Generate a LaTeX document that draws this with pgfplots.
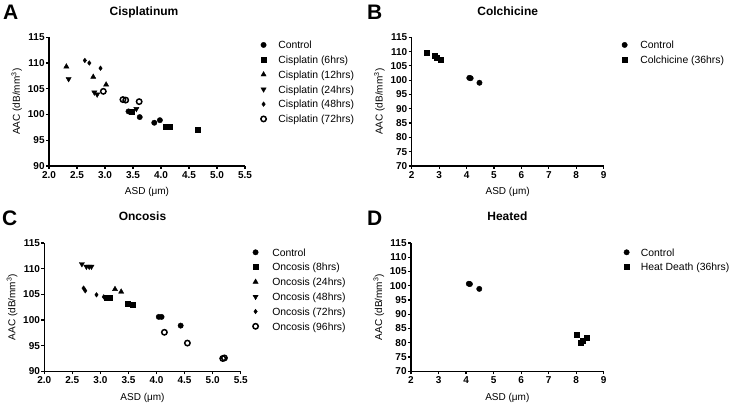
\documentclass[border=0pt]{standalone}
\usepackage{pgfplots}
\pgfplotsset{compat=1.18}
\usepackage{fontspec}
\setmainfont{Liberation Sans}

\pgfplotsset{
  gp/.style={
    scale only axis,
    axis x line*=bottom, axis y line*=left,
    axis line style={line width=1.3pt, -},
    every tick/.style={black, line width=1.2pt},
    tick align=outside,
    major tick length=3pt,
    clip=false,
    /pgf/number format/assume math mode=true,
    ticklabel style={font=\bfseries\fontsize{10}{10}\selectfont},
    yticklabel style={inner sep=1.2pt},
    xticklabel style={inner sep=2.5pt},
    label style={font=\fontsize{10.8}{12}\selectfont},
    every axis x label/.style={at={([yshift=-29pt]axis description cs:0.5,0)}, anchor=base},
    every axis y label/.style={at={([xshift=-29pt]axis description cs:0,0.5)}, anchor=base, rotate=90},
    title style={font=\bfseries\fontsize{12}{12}\selectfont, anchor=base, at={(axis description cs:0.5,1)}, yshift=16pt},
    legend cell align=left,
    legend style={draw=none, fill=none, inner sep=0pt, outer sep=0pt,
      font=\fontsize{10.4}{12}\selectfont,
      nodes={inner sep=0pt, text height=9pt, text depth=1.4pt},
      row sep=4.4pt, anchor=north west},
    legend image code/.code={\draw[mark repeat=2,mark phase=2,#1] plot coordinates {(0pt,0pt) (3pt,0pt) (6pt,0pt)};},
    ylabel={AAC (dB/mm\textsuperscript{3})},
    xlabel={ASD (μm)},
  },
  ctrl/.style={only marks, black, mark=*, mark size=2.7pt},
  sq/.style={only marks, black, mark=square*, mark size=2.5pt},
  tu/.style={only marks, black, mark=triangle*, mark size=3pt},
  td/.style={only marks, black, mark=triangle*, mark size=3pt, mark options={rotate=180}},
  dm/.style={only marks, black, mark=diamond*, mark size=2.3pt},
  oc/.style={only marks, black, mark=o, mark size=2.7pt, mark options={line width=1.5pt}},
}

\begin{document}
\begin{tikzpicture}
\useasboundingbox (0,0) rectangle (730pt,406pt);

% Panel letters
\node[anchor=base west, inner sep=0pt, font=\bfseries\fontsize{21}{21}\selectfont] at (3pt,386pt) {A};
\node[anchor=base west, inner sep=0pt, font=\bfseries\fontsize{21}{21}\selectfont] at (367pt,386pt) {B};
\node[anchor=base west, inner sep=0pt, font=\bfseries\fontsize{21}{21}\selectfont] at (2pt,180pt) {C};
\node[anchor=base west, inner sep=0pt, font=\bfseries\fontsize{21}{21}\selectfont] at (367pt,180pt) {D};

% ---------------- A ----------------
\begin{axis}[gp, at={(49pt,240pt)}, anchor=south west,
  width=196pt, height=128.7pt,
  xmin=2, xmax=5.5, ymin=90, ymax=115,
  xtick={2,2.5,...,5.5}, ytick={90,95,...,115},
  xticklabel style={/pgf/number format/.cd, fixed, fixed zerofill, precision=1},
  title={Cisplatinum}, title style={xshift=-3pt},
  legend style={at={(rel axis cs:1.081,0.981)}, /tikz/every odd column/.append style={column sep=12pt}}]
\addplot[ctrl] coordinates {(3.42,100.6) (3.62,99.5) (3.88,98.4) (3.98,98.9)};
\addlegendentry{Control}
\addplot[sq] coordinates {(3.48,100.6) (4.09,97.6) (4.15,97.6) (4.65,97.1)};
\addlegendentry{Cisplatin (6hrs)}
\addplot[tu] coordinates {(2.31,109.3) (2.79,107.3) (3.02,105.8)};
\addlegendentry{Cisplatin (12hrs)}
\addplot[td] coordinates {(2.35,106.9) (2.81,104.3) (2.86,103.9) (3.56,101.1)};
\addlegendentry{Cisplatin (24hrs)}
\addplot[dm] coordinates {(2.64,110.5) (2.72,110.0) (2.92,109.0)};
\addlegendentry{Cisplatin (48hrs)}
\addplot[oc] coordinates {(2.97,104.5) (3.32,102.9) (3.37,102.8) (3.61,102.5)};
\addlegendentry{Cisplatin (72hrs)}
\end{axis}

% ---------------- B ----------------
\begin{axis}[gp, at={(411.7pt,240pt)}, anchor=south west,
  width=192pt, height=128.7pt,
  xmin=2, xmax=9, ymin=70, ymax=115,
  xtick={2,3,...,9}, ytick={70,75,...,115},
  title={Colchicine},
  legend style={at={(rel axis cs:1.095,0.981)}, /tikz/every odd column/.append style={column sep=13pt}}]
\addplot[ctrl] coordinates {(4.10,100.8) (4.15,100.7) (4.47,99.1)};
\addlegendentry{Control}
\addplot[sq] coordinates {(2.55,109.6) (2.84,108.6) (2.90,108.0) (3.06,107.0)};
\addlegendentry{Colchicine (36hrs)}
\end{axis}

% ---------------- C ----------------
\begin{axis}[gp, at={(44.3pt,34.7pt)}, anchor=south west,
  width=196.4pt, height=128.3pt,
  xmin=2, xmax=5.5, ymin=90, ymax=115,
  xtick={2,2.5,...,5.5}, ytick={90,95,...,115},
  xticklabel style={/pgf/number format/.cd, fixed, fixed zerofill, precision=1},
  title={Oncosis},
  legend style={at={(rel axis cs:1.062,0.968)}, /tikz/every odd column/.append style={column sep=14pt}}]
\addplot[ctrl] coordinates {(4.04,100.6) (4.09,100.6) (4.43,98.9)};
\addlegendentry{Control}
\addplot[sq] coordinates {(3.11,104.4) (3.16,104.4) (3.48,103.2) (3.58,102.9)};
\addlegendentry{Oncosis (8hrs)}
\addplot[tu] coordinates {(3.26,106.0) (3.37,105.5)};
\addlegendentry{Oncosis (24hrs)}
\addplot[td] coordinates {(2.67,110.9) (2.75,110.4) (2.80,110.4) (2.84,110.4)};
\addlegendentry{Oncosis (48hrs)}
\addplot[dm] coordinates {(2.70,106.2) (2.73,105.7) (2.93,104.9) (3.06,104.5)};
\addlegendentry{Oncosis (72hrs)}
\addplot[oc] coordinates {(4.14,97.6) (4.55,95.5) (5.18,92.5) (5.21,92.6)};
\addlegendentry{Oncosis (96hrs)}
\end{axis}

% ---------------- D ----------------
\begin{axis}[gp, at={(411pt,34.7pt)}, anchor=south west,
  width=192.7pt, height=128.3pt,
  xmin=2, xmax=9, ymin=70, ymax=115,
  xtick={2,3,...,9}, ytick={70,75,...,115},
  title={Heated},
  legend style={at={(rel axis cs:1.105,0.968)}, /tikz/every odd column/.append style={column sep=11.5pt}}]
\addplot[ctrl] coordinates {(4.10,100.7) (4.14,100.6) (4.48,98.9)};
\addlegendentry{Control}
\addplot[sq] coordinates {(8.02,82.7) (8.17,80.0) (8.25,80.9) (8.37,81.8)};
\addlegendentry{Heat Death (36hrs)}
\end{axis}
\end{tikzpicture}
\end{document}
